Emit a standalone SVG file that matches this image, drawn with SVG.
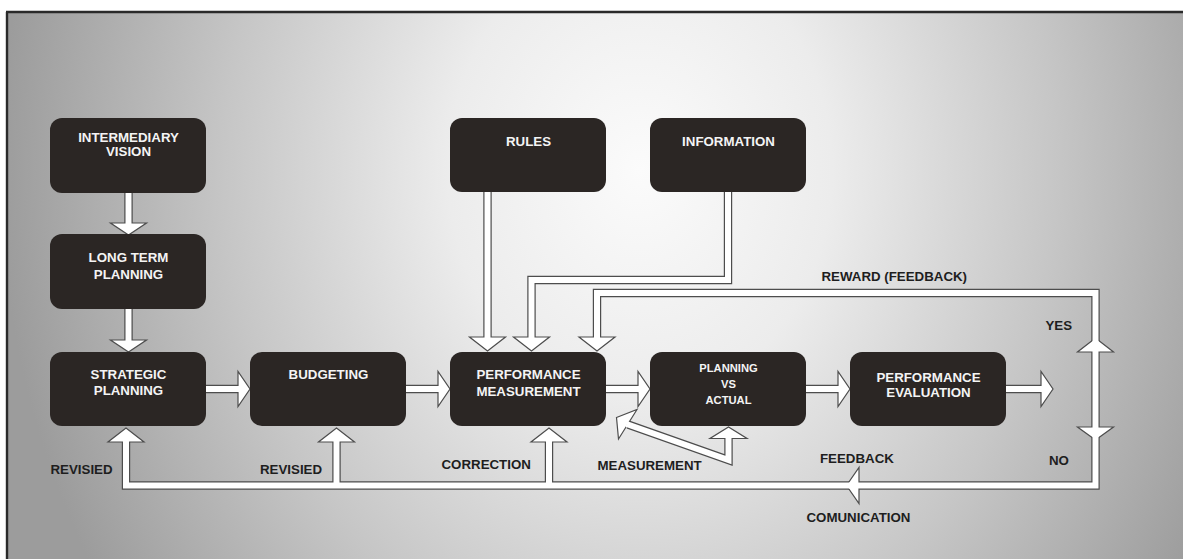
<svg xmlns="http://www.w3.org/2000/svg" width="1183" height="559" viewBox="0 0 1183 559">
<defs>
<radialGradient id="bg" gradientUnits="userSpaceOnUse" cx="640" cy="170" r="640" gradientTransform="translate(640 170) scale(1 1.2) translate(-640 -170)">
<stop offset="0" stop-color="#fbfbfb"/>
<stop offset="0.3" stop-color="#ececec"/>
<stop offset="0.65" stop-color="#c6c6c6"/>
<stop offset="1" stop-color="#9c9c9c"/>
</radialGradient>
<style>
.node rect{fill:#2b2624;}
.node text{fill:#f4f4f4;font-family:"Liberation Sans",Arial,sans-serif;font-weight:bold;font-size:13.3px;text-anchor:middle;}
.node text.sm{font-size:11.2px;}
.lbl{fill:#1e1e1e;font-family:"Liberation Sans",Arial,sans-serif;font-weight:bold;font-size:13.3px;}
.to{fill:none;stroke:#4d4d4d;stroke-width:8.4;stroke-linejoin:miter;stroke-linecap:butt;}
.ti{fill:none;stroke:#ffffff;stroke-width:6;stroke-linejoin:miter;stroke-linecap:butt;}
.hd{fill:#ffffff;stroke:#4d4d4d;stroke-width:1.2;stroke-linejoin:miter;}
</style>
</defs>
<rect x="7" y="12" width="1176" height="547" fill="url(#bg)"/>
<path d="M6,12 H1183 M7,12 V559" fill="none" stroke="#2a2a2a" stroke-width="2.4"/>

<g id="connectors">
<g class="outline">
<path class="to" d="M128.5,190 V223"/>
<path class="to" d="M128.5,306 V340"/>
<path class="to" d="M203,389 H238"/>
<path class="to" d="M403,389 H438"/>
<path class="to" d="M603,389 H638"/>
<path class="to" d="M803,389 H838"/>
<path class="to" d="M1003,389 H1041"/>
<path class="to" d="M487.5,189 V337"/>
<path class="to" d="M728,189 V280 H531.5 V337"/>
<path class="to" d="M597,337 V293 H1095.5 V485.5 H126 V442"/>
<path class="to" d="M336.5,485.5 V442"/>
<path class="to" d="M549,485.5 V442"/>
<path class="to" d="M728.5,438 V460 L628,424.5"/>
</g>
<g class="heads">
<polygon class="hd" points="110.5,223 146.5,223 128.5,235"/>
<polygon class="hd" points="110.5,340 146.5,340 128.5,352"/>
<polygon class="hd" points="238,371.5 238,406.5 250,389"/>
<polygon class="hd" points="438,371.5 438,406.5 450,389"/>
<polygon class="hd" points="638,371.5 638,406.5 650,389"/>
<polygon class="hd" points="838,371.5 838,406.5 850,389"/>
<polygon class="hd" points="1041,371.5 1041,406.5 1053,389"/>
<polygon class="hd" points="469.5,337 505.5,337 487.5,351"/>
<polygon class="hd" points="513.5,337 549.5,337 531.5,351"/>
<polygon class="hd" points="579,337 615,337 597,351"/>
<polygon class="hd" points="108,442 144,442 126,428"/>
<polygon class="hd" points="318.5,442 354.5,442 336.5,428"/>
<polygon class="hd" points="531,442 567,442 549,428"/>
<polygon class="hd" points="1077.5,352 1113.5,352 1095.5,338"/>
<polygon class="hd" points="1077.5,427 1113.5,427 1095.5,440"/>
<polygon class="hd" points="859,467.5 859,503.5 846.5,485.5"/>
<polygon class="hd" points="710,438.5 747,438.5 728.5,427"/>
<polygon class="hd" points="616.5,417.5 637,409.5 618.5,439"/>
</g>
<g class="inner">
<path class="ti" d="M128.5,190 V224.5"/>
<path class="ti" d="M128.5,306 V341.5"/>
<path class="ti" d="M203,389 H239.5"/>
<path class="ti" d="M403,389 H439.5"/>
<path class="ti" d="M603,389 H639.5"/>
<path class="ti" d="M803,389 H839.5"/>
<path class="ti" d="M1003,389 H1042.5"/>
<path class="ti" d="M487.5,189 V338.5"/>
<path class="ti" d="M728,189 V280 H531.5 V338.5"/>
<path class="ti" d="M597,338.5 V293 H1095.5 V485.5 H126 V440.5"/>
<path class="ti" d="M336.5,485.5 V440.5"/>
<path class="ti" d="M549,485.5 V440.5"/>
<path class="ti" d="M728.5,437 V460 L626.5,424"/>
</g>
</g>

<g id="n-intermediary-vision" class="node">
<rect x="50" y="118" width="156" height="75" rx="12"/>
<text x="128.5" y="141.5">INTERMEDIARY</text>
<text x="128.5" y="155.5">VISION</text>
</g>
<g id="n-long-term-planning" class="node">
<rect x="50" y="234" width="156" height="75" rx="12"/>
<text x="128.5" y="262">LONG TERM</text>
<text x="128.5" y="278.5">PLANNING</text>
</g>
<g id="n-strategic-planning" class="node">
<rect x="50" y="352" width="156" height="74" rx="12"/>
<text x="128.5" y="379">STRATEGIC</text>
<text x="128.5" y="395">PLANNING</text>
</g>
<g id="n-budgeting" class="node">
<rect x="250" y="352" width="156" height="74" rx="12"/>
<text x="328.5" y="379">BUDGETING</text>
</g>
<g id="n-performance-measurement" class="node">
<rect x="450" y="352" width="156" height="74" rx="12"/>
<text x="528.5" y="379">PERFORMANCE</text>
<text x="528.5" y="395.5">MEASUREMENT</text>
</g>
<g id="n-planning-vs-actual" class="node">
<rect x="650" y="352" width="156" height="74" rx="12"/>
<text class="sm" x="728.5" y="371.5">PLANNING</text>
<text class="sm" x="728.5" y="388">VS</text>
<text class="sm" x="728.5" y="404">ACTUAL</text>
</g>
<g id="n-performance-evaluation" class="node">
<rect x="850" y="352" width="156" height="74" rx="12"/>
<text x="928.5" y="381.5">PERFORMANCE</text>
<text x="928.5" y="396.5">EVALUATION</text>
</g>
<g id="n-rules" class="node">
<rect x="450" y="118" width="156" height="74" rx="12"/>
<text x="528.5" y="145.5">RULES</text>
</g>
<g id="n-information" class="node">
<rect x="650" y="118" width="156" height="74" rx="12"/>
<text x="728.5" y="145.5">INFORMATION</text>
</g>

<g id="labels">
<text class="lbl" x="50.5" y="474">REVISIED</text>
<text class="lbl" x="260" y="474">REVISIED</text>
<text class="lbl" x="441.5" y="468.5">CORRECTION</text>
<text class="lbl" x="597.5" y="470">MEASUREMENT</text>
<text class="lbl" x="820" y="462.5">FEEDBACK</text>
<text class="lbl" x="1049" y="465">NO</text>
<text class="lbl" x="806.5" y="521.5">COMUNICATION</text>
<text class="lbl" x="1045.5" y="330">YES</text>
<text class="lbl" x="821.5" y="281">REWARD (FEEDBACK)</text>
</g>
</svg>
